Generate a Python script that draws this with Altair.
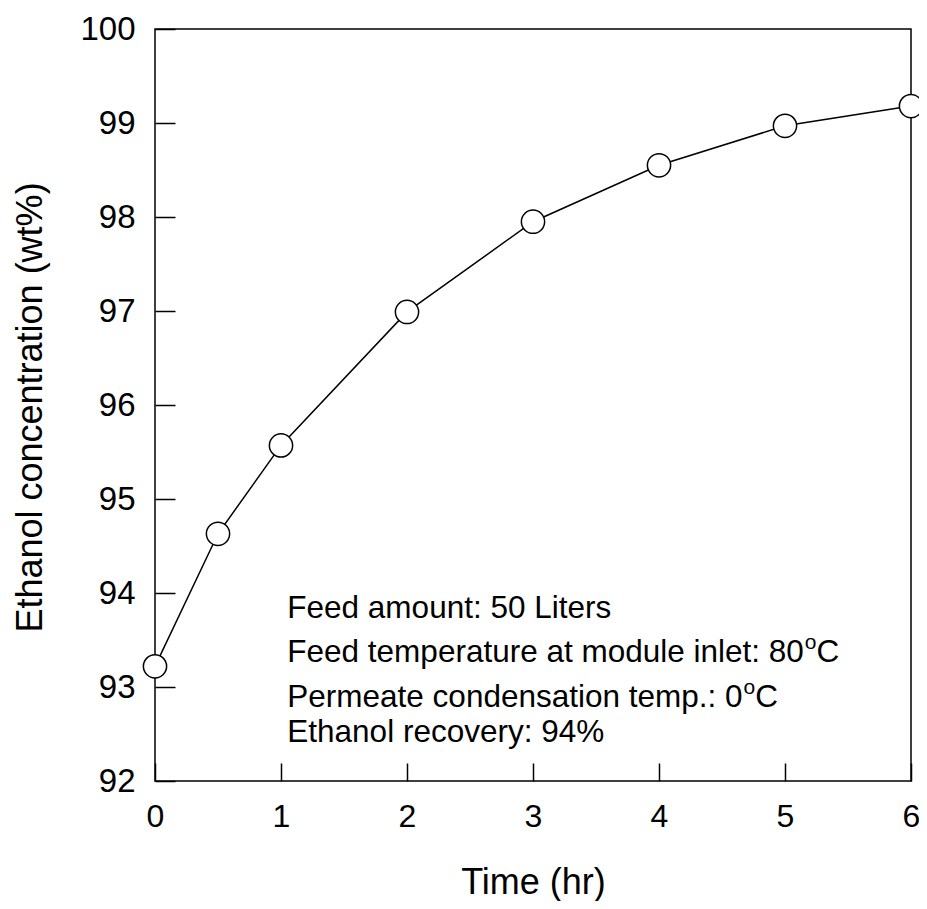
import altair as alt
import pandas as pd

# ---- data ----
time_hr = [0, 0.5, 1, 2, 3, 4, 5, 6]
ethanol_wt = [93.22, 94.63, 95.57, 96.99, 97.95, 98.55, 98.97, 99.18]

x_ticks = [0, 1, 2, 3, 4, 5, 6]
y_ticks = [92, 93, 94, 95, 96, 97, 98, 99, 100]

note_lines = [
    "Feed amount: 50 Liters",
    "Feed temperature at module inlet: 80",
    "Permeate condensation temp.: 0",
    "Ethanol recovery: 94%",
]
note_sup = ["", "o", "o", ""]
note_tail = ["", "C", "C", ""]
note_y = [93.73, 93.27, 92.79, 92.41]
note_x = 1.05

FONT = "Liberation Sans"
NOTE_FS = 31.5
SUP_FS = 21

# Arial/Liberation Sans advance widths (per 1000 em) for measuring the notes
W = {' ': 278, 'F': 611, 'e': 556, 'd': 556, 'a': 556, 'm': 833, 'o': 556, 'u': 556,
     'n': 556, 't': 278, ':': 278, '5': 556, '0': 556, 'L': 556, 'i': 222, 'r': 333,
     's': 500, 'p': 556, 'l': 222, '8': 556, 'P': 667, 'c': 500, '.': 278, 'E': 667,
     'h': 556, 'v': 500, 'y': 500, '9': 556, '4': 556, '%': 889, 'C': 722}


def width(s, fs):
    return sum(W.get(ch, 556) for ch in s) / 1000.0 * fs


df = pd.DataFrame({"t": time_hr, "c": ethanol_wt})

xs = alt.Scale(domain=[0, 6], nice=False)
ys = alt.Scale(domain=[92, 100], nice=False)

x_axis = alt.Axis(values=x_ticks, format="d", domain=False, tickSize=18, offset=-18,
                  tickColor="black", tickWidth=1.5, labelPadding=20, labelFlush=False,
                  labelFontSize=32, labelFont=FONT, labelColor="black",
                  grid=False, title="Time (hr)", titleFontSize=36, titleFont=FONT,
                  titleFontWeight="normal", titleColor="black",
                  titleY=119, titleBaseline="middle")
y_axis = alt.Axis(values=y_ticks, format="d", domain=False, tickSize=20, offset=-20,
                  tickColor="black", tickWidth=1.5, labelPadding=20, labelFlush=False,
                  labelFontSize=33, labelFont=FONT, labelColor="black",
                  grid=False, title="Ethanol concentration (wt%)", titleFontSize=36,
                  titleFont=FONT, titleFontWeight="normal", titleColor="black",
                  titleX=-145, titleY=378, titleBaseline="middle", titleAngle=-90)

base = alt.Chart(df)

line = base.mark_line(color="black", strokeWidth=1.5).encode(
    x=alt.X("t:Q", scale=xs, axis=x_axis),
    y=alt.Y("c:Q", scale=ys, axis=y_axis),
)
pts = base.mark_point(shape="circle", size=540, filled=True, fill="white",
                      stroke="black", strokeWidth=1.5, opacity=1).encode(
    x=alt.X("t:Q", scale=xs),
    y=alt.Y("c:Q", scale=ys),
)

layers = [line, pts]
for txt, sup, tail, yv in zip(note_lines, note_sup, note_tail, note_y):
    nd = pd.DataFrame({"x": [note_x], "y": [yv]})
    layers.append(alt.Chart(nd).mark_text(
        text=txt, align="left", baseline="alphabetic", fontSize=NOTE_FS,
        font=FONT, color="black").encode(
        x=alt.X("x:Q", scale=xs), y=alt.Y("y:Q", scale=ys)))
    if sup:
        w0 = width(txt, NOTE_FS)
        layers.append(alt.Chart(nd).mark_text(
            text=sup, align="left", baseline="alphabetic", fontSize=SUP_FS,
            font=FONT, color="black", dx=w0 + 1, dy=-13).encode(
            x=alt.X("x:Q", scale=xs), y=alt.Y("y:Q", scale=ys)))
        w1 = w0 + 1 + width(sup, SUP_FS)
        layers.append(alt.Chart(nd).mark_text(
            text=tail, align="left", baseline="alphabetic", fontSize=NOTE_FS,
            font=FONT, color="black", dx=w1).encode(
            x=alt.X("x:Q", scale=xs), y=alt.Y("y:Q", scale=ys)))

chart = alt.layer(*layers).properties(
    width=756, height=752,
    autosize=alt.AutoSizeParams(type="none"),
    padding={"left": 147, "top": 21, "right": 8, "bottom": 120},
    background="white",
).configure_view(stroke="black", strokeWidth=1.5)

chart.save("out.html", embed_options={"renderer": "svg", "actions": False})
